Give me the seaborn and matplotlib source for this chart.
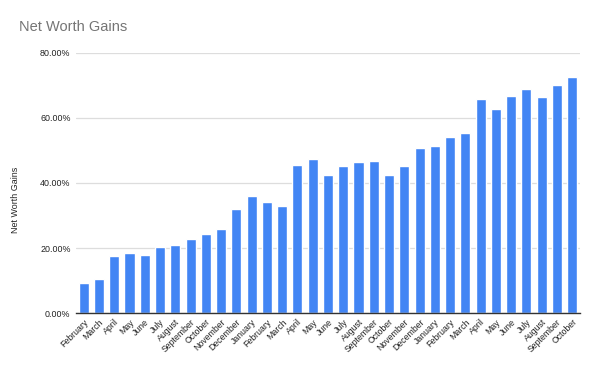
import pandas as pd
import matplotlib.pyplot as plt
import seaborn as sns
from matplotlib.ticker import FuncFormatter

months = ['February', 'March', 'April', 'May', 'June', 'July', 'August', 'September',
          'October', 'November', 'December', 'January', 'February', 'March', 'April',
          'May', 'June', 'July', 'August', 'September', 'October', 'November',
          'December', 'January', 'February', 'March', 'April', 'May', 'June', 'July',
          'August', 'September', 'October']
gains = [9.2, 10.4, 17.6, 18.4, 17.9, 20.3, 20.9, 22.7, 24.3, 26.0, 31.9, 35.9,
         34.2, 33.0, 45.5, 47.3, 42.4, 45.2, 46.5, 46.8, 42.6, 45.2, 50.7, 51.3,
         54.1, 55.4, 65.7, 62.7, 66.7, 68.8, 66.5, 70.1, 72.4]

df = pd.DataFrame({'pos': range(len(months)), 'month': months, 'gain': gains})

sns.set_theme(style='white')
plt.rcParams['font.family'] = ['Liberation Sans', 'DejaVu Sans']

fig = plt.figure(figsize=(5.99, 3.71), dpi=100)
ax = fig.add_axes([0.127, 0.1555, 0.841, 0.7025])

sns.barplot(data=df, x='pos', y='gain', color='#4285F4', width=0.66,
            saturation=1, ax=ax)

ax.set_ylim(0, 80)
ax.set_yticks([0, 20, 40, 60, 80])
ax.yaxis.set_major_formatter(FuncFormatter(lambda v, p: f'{v:.2f}%'))
ax.grid(axis='y', color='#dddddd', linewidth=0.9)
ax.set_axisbelow(True)

ax.set_xticks(range(len(months)))
ax.set_xticklabels(months, rotation=45, ha='right', rotation_mode='anchor')
ax.tick_params(axis='x', labelsize=6.3, colors='#222222', length=0, pad=3)
ax.tick_params(axis='y', labelsize=6.4, colors='#222222', length=0, pad=4)

for s in ['top', 'right', 'left']:
    ax.spines[s].set_visible(False)
ax.spines['bottom'].set_color('#333333')
ax.spines['bottom'].set_linewidth(1)

ax.set_xlabel('')
ax.set_ylabel('Net Worth Gains', fontsize=6.4, color='#222222')
ax.yaxis.set_label_coords(-0.112, 0.435)

fig.text(19 / 599, 1 - 27 / 371, 'Net Worth Gains', fontsize=10.5,
         color='#757575', ha='left', va='center')

fig.savefig('out.png', dpi=100)
